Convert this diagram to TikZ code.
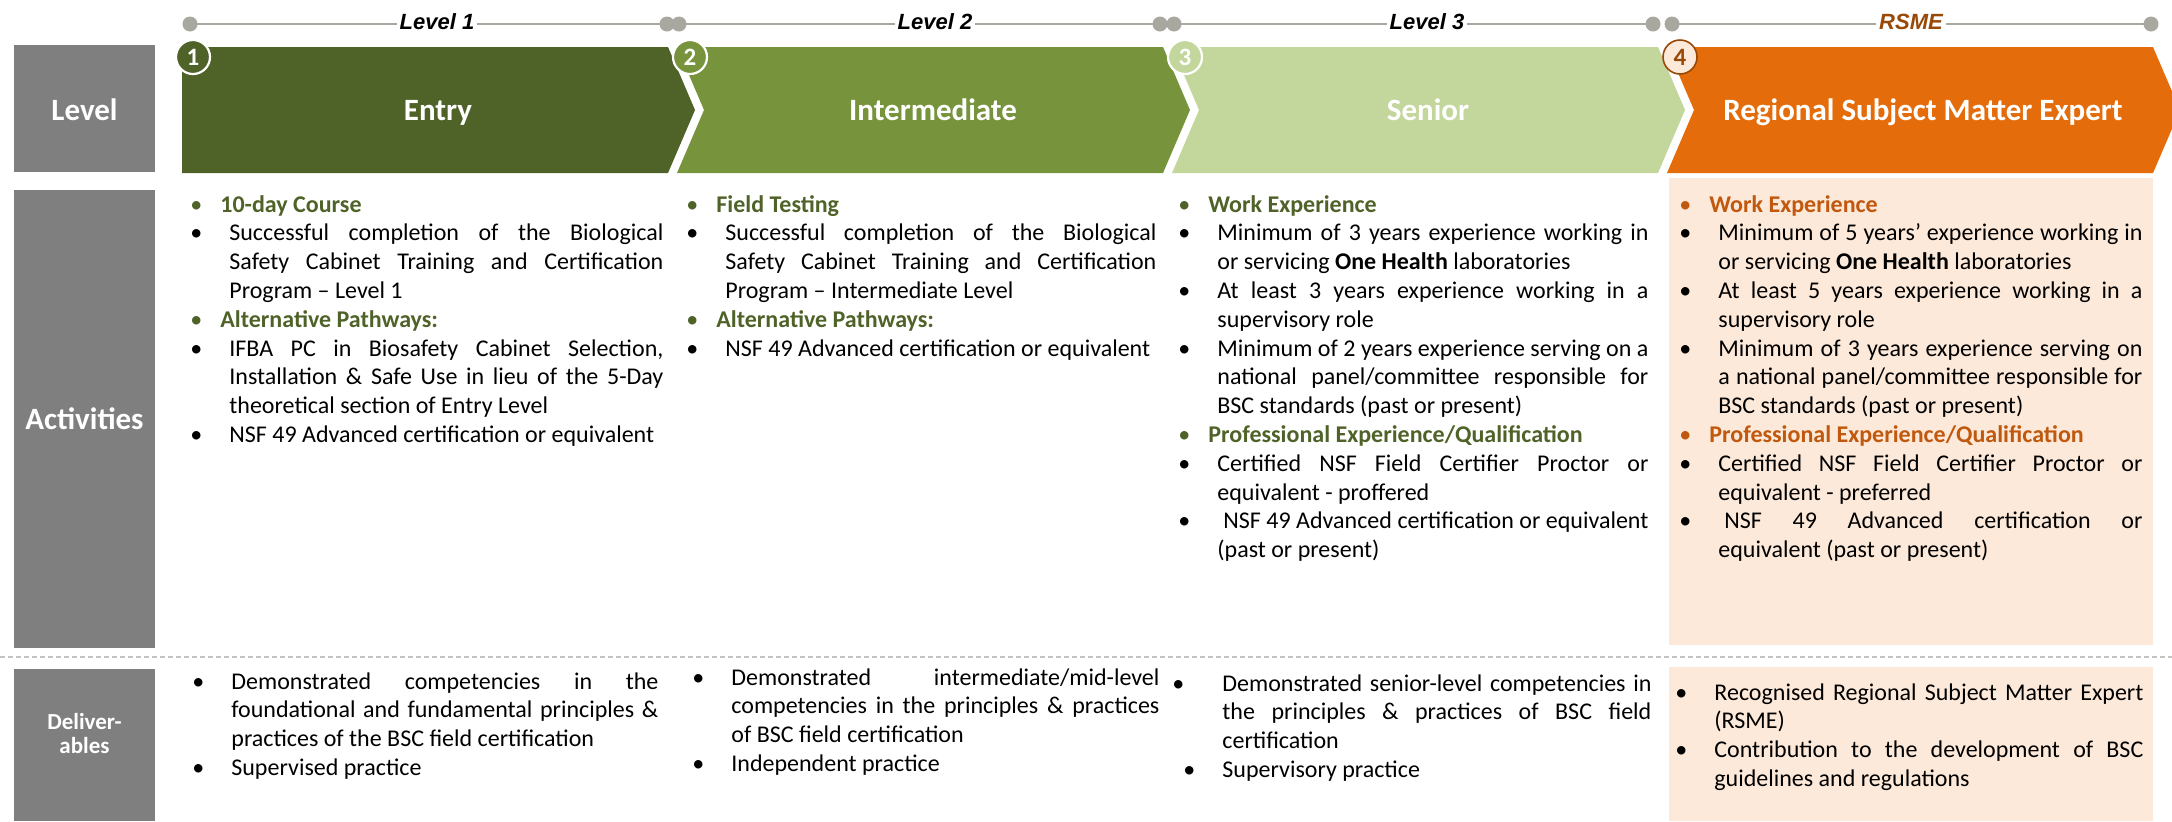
\documentclass[tikz,border=0pt]{standalone}
\usepackage{fontspec}
\setmainfont{Carlito}
\newfontfamily\tlfont{Liberation Sans}
\usepackage{xcolor}
\usetikzlibrary{calc}
\usetikzlibrary{positioning}

\definecolor{entryGreen}{HTML}{4F6228}
\definecolor{interGreen}{HTML}{77933C}
\definecolor{seniorGreen}{HTML}{C3D69B}
\definecolor{rsmeOrange}{HTML}{E46C0A}
\definecolor{rsmeBrown}{HTML}{984807}
\definecolor{rsmeHead}{HTML}{C0580E}
\definecolor{rsmePeach}{HTML}{FDE9D9}
\definecolor{boxGray}{HTML}{7F7F7F}
\definecolor{lineGray}{HTML}{A8A7A0}
\definecolor{dashGray}{HTML}{C4C4C0}

% bullet lines of the columns
\newlength{\itemInd}
\setlength{\itemInd}{19.5pt}
\newcommand{\headItem}[2]{\noindent\makebox[15pt][l]{\textcolor{#1}{\textbullet}}\textcolor{#1}{\textbf{#2}}\par}
\newcommand{\bulItem}[2][0pt]{\noindent\hangindent=\itemInd\hangafter=1\makebox[\itemInd][l]{\kern#1\textbullet}#2\par}

\begin{document}
\begin{tikzpicture}[x=0.5pt,y=-0.5pt,
	sidelabel/.style={text=white,font=\fontsize{15.5}{18}\selectfont\bfseries,align=center},
	chevlabel/.style={text=white,font=\fontsize{15.5}{18}\selectfont\bfseries,anchor=base},
	numdot/.style={circle,draw=white,line width=1.1pt,minimum size=17pt,inner sep=0pt,text=white,font=\fontsize{12.5}{14}\selectfont\bfseries},
	tllabel/.style={fill=white,inner sep=1.5pt,anchor=base,font=\tlfont\fontsize{11}{13}\selectfont\bfseries\itshape},
	colbody/.style={anchor=base west,inner sep=0pt,align=justify,font=\fontsize{12}{14.4}\selectfont}]
	\useasboundingbox (0,0) rectangle (2172,821);
	
	% timeline on top
	\draw[lineGray,line width=1.3pt] (190,24) -- (667,24);
	\draw[lineGray,line width=1.3pt] (679,24) -- (1160,24);
	\draw[lineGray,line width=1.3pt] (1174,24) -- (1653,24);
	\draw[lineGray,line width=1.3pt] (1672,24) -- (2151,24);
	\foreach \x in {190,667,679,1160,1174,1653,1672,2151}
		\fill[lineGray] (\x,24) circle[radius=7.5];
	\node[tllabel] (tlOne) at (437,29) {Level 1};
	\node[tllabel] (tlTwo) at (935,29) {Level 2};
	\node[tllabel] (tlThree) at (1427,29) {Level 3};
	\node[tllabel,text=rsmeBrown] (tlRsme) at (1911,29) {RSME};
	
	% grey row headers
	\fill[boxGray] (14,45) rectangle (155,172);
	\fill[boxGray] (14,190) rectangle (155,648);
	\fill[boxGray] (14,669) rectangle (155,821);
	\node[sidelabel] (hdLevel) at (84.5,110) {Level};
	\node[sidelabel] (hdActivities) at (84.5,419) {Activities};
	\node[sidelabel,font=\fontsize{11.5}{12}\selectfont\bfseries] (hdDeliver) at (84.5,733) {Deliver-\\ables};
	
	% chevrons
	\fill[entryGreen] (182,47) -- (668,47) -- (695,110) -- (668,173) -- (182,173) -- cycle;
	\fill[interGreen] (677,47) -- (1163,47) -- (1190,110) -- (1163,173) -- (677,173) -- (704,110) -- cycle;
	\fill[seniorGreen] (1172,47) -- (1658,47) -- (1685,110) -- (1658,173) -- (1172,173) -- (1199,110) -- cycle;
	\fill[rsmeOrange] (1667,47) -- (2153,47) -- (2180,110) -- (2153,173) -- (1667,173) -- (1694,110) -- cycle;
	\node[chevlabel] (chEntry) at (438,120) {Entry};
	\node[chevlabel] (chInter) at (933,120) {Intermediate};
	\node[chevlabel] (chSenior) at (1428,120) {Senior};
	\node[chevlabel] (chRsme) at (1923,120) {Regional Subject Matter Expert};
	
	% numbered dots
	\node[numdot,fill=entryGreen] (numOne) at (193,57) {1};
	\node[numdot,fill=interGreen] (numTwo) at (690,57) {2};
	\node[numdot,fill=seniorGreen] (numThree) at (1185,57) {3};
	\node[numdot,fill=rsmePeach,draw=rsmeBrown,text=rsmeBrown,line width=0.8pt] (numFour) at (1680,57) {4};
	
	% peach background of the RSME column
	\fill[rsmePeach] (1669,178) rectangle (2153,645);
	\fill[rsmePeach] (1669,667) rectangle (2153,821);
	
	% separator
	\draw[dashGray,line width=0.6pt,dash pattern=on 2.5pt off 1.5pt] (0,657) -- (2172,657);
	
	% activities
	\node[colbody,text width=236.5pt] (actEntry) at (190,212) {%
		\headItem{entryGreen}{10-day Course}
		\bulItem{Successful completion of the Biological\linebreak Safety Cabinet Training and Certification\linebreak Program – Level 1}
		\headItem{entryGreen}{Alternative Pathways:}
		\bulItem{IFBA PC in Biosafety Cabinet Selection,\linebreak Installation \& Safe Use in lieu of the 5-Day\linebreak theoretical section of Entry Level}
		\bulItem{NSF 49 Advanced certification or equivalent}};
	\node[colbody,text width=235pt] (actInter) at (686,212) {%
		\headItem{entryGreen}{Field Testing}
		\bulItem{Successful completion of the Biological\linebreak Safety Cabinet Training and Certification\linebreak Program – Intermediate Level}
		\headItem{entryGreen}{Alternative Pathways:}
		\bulItem{NSF 49 Advanced certification or equivalent}};
	\node[colbody,text width=235pt] (actSenior) at (1178,212) {%
		\headItem{entryGreen}{Work Experience}
		\bulItem{Minimum of 3 years experience working in\linebreak or servicing \textbf{One Health} laboratories}
		\bulItem{At least 3 years experience working in a\linebreak supervisory role}
		\bulItem{Minimum of 2 years experience serving on a\linebreak national panel/committee responsible for\linebreak BSC standards (past or present)}
		\headItem{entryGreen}{Professional Experience/Qualification}
		\bulItem{Certified NSF Field Certifier Proctor or\linebreak equivalent - proffered}
		\bulItem{\hspace{3pt}NSF 49 Advanced certification or equivalent\linebreak (past or present)}};
	\node[colbody,text width=231.5pt] (actRsme) at (1679,212) {%
		\headItem{rsmeHead}{Work Experience}
		\bulItem{Minimum of 5 years’ experience working in\linebreak or servicing \textbf{One Health} laboratories}
		\bulItem{At least 5 years experience working in a\linebreak supervisory role}
		\bulItem{Minimum of 3 years experience serving on\linebreak a national panel/committee responsible for\linebreak BSC standards (past or present)}
		\headItem{rsmeHead}{Professional Experience/Qualification}
		\bulItem{Certified NSF Field Certifier Proctor or\linebreak equivalent - preferred}
		\bulItem{\hspace{3pt}NSF 49 Advanced certification or\linebreak equivalent (past or present)}};
	
	% deliverables
	\node[colbody,text width=233pt] (delEntry) at (192,689) {%
		\bulItem{Demonstrated competencies in the\linebreak foundational and fundamental principles \&\linebreak practices of the BSC field certification}
		\bulItem{Supervised practice}};
	\node[colbody,text width=233.5pt] (delInter) at (692,685) {%
		\bulItem{Demonstrated intermediate/mid-level\linebreak competencies in the principles \& practices\linebreak of BSC field certification}
		\bulItem{Independent practice}};
	\node[colbody,text width=234pt] (delSenior) at (1183,691) {%
		\bulItem[-5.5pt]{Demonstrated senior-level competencies in\linebreak the principles \& practices of BSC field\linebreak certification}
		\bulItem{Supervisory practice}};
	\node[colbody,text width=234pt] (delRsme) at (1675,700) {%
		\bulItem{Recognised Regional Subject Matter Expert\linebreak (RSME)}
		\bulItem{Contribution to the development of BSC\linebreak guidelines and regulations}};
\end{tikzpicture}
\end{document}
